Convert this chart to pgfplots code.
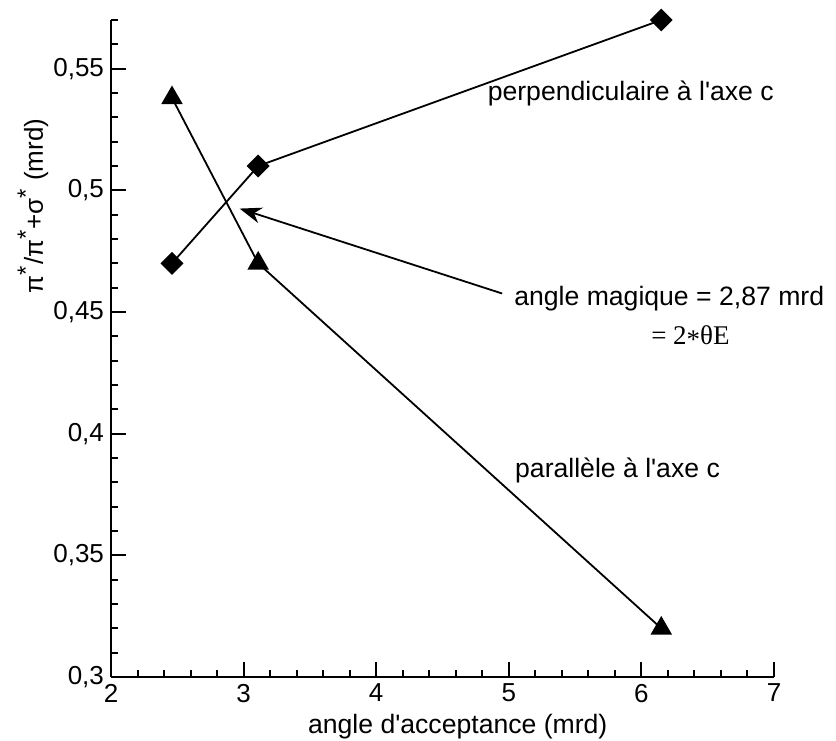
\documentclass[border=0pt]{standalone}
\usepackage{fontspec}
\setmainfont{Liberation Sans}
\newfontfamily\timesf{Liberation Serif}
\usepackage{pgfplots}
\pgfplotsset{compat=1.18}
\usetikzlibrary{arrows.meta}
\begin{document}
\begin{tikzpicture}
\begin{axis}[
  scale only axis,
  width=331.5pt, height=328.5pt,
  xmin=2, xmax=7, ymin=0.3, ymax=0.57,
  axis lines*=left,
  axis line style={line width=1pt},
  tick style={line width=1pt, black},
  tick align=inside,
  major tick length=7.5pt,
  minor tick length=3.75pt,
  xtick={2,3,4,5,6,7},
  minor x tick num=4,
  ytick={0.3,0.35,0.4,0.45,0.5,0.55},
  minor ytick={0.31,0.32,0.33,0.34,0.36,0.37,0.38,0.39,0.41,0.42,0.43,0.44,0.46,0.47,0.48,0.49,0.51,0.52,0.53,0.54,0.56,0.57},
  /pgf/number format/assume math mode=true,
  /pgf/number format/.cd, use comma, fixed, precision=2, 1000 sep={},
  /pgfplots/.cd,
  tick label style={font=\fontsize{13}{15}\selectfont},
  clip=false,
]
\addplot[black, line width=0.9pt, mark=square*, mark size=3.6pt, mark options={rotate=45, solid, fill=black}]
  coordinates {(2.46,0.47) (3.11,0.51) (6.15,0.57)};
\addplot[black, line width=0.9pt, mark=triangle*, mark size=5.3pt, mark options={solid, fill=black}]
  coordinates {(2.46,0.538) (3.11,0.47) (6.15,0.32)};
\draw[line width=0.9pt, -{Stealth[length=11pt, width=8pt, inset=3.5pt]}] (axis cs:4.95,0.4576) -- (axis cs:2.97,0.4925);
\node[font=\fontsize{13.3}{15}\selectfont] at (axis cs:5.92,0.5397) {perpendiculaire à l\textquotesingle axe c};
\node[font=\fontsize{13.3}{15}\selectfont] at (axis cs:6.21,0.4556) {angle magique = 2,87 mrd};
\node[font=\timesf\fontsize{13.5}{15}\selectfont] at (axis cs:6.37,0.4396) {= 2\raisebox{-0.35ex}{*}θE};
\node[font=\fontsize{13.3}{15}\selectfont] at (axis cs:5.82,0.385) {parallèle à l\textquotesingle axe c};
\node[font=\fontsize{13.3}{15}\selectfont] at ([yshift=-25pt]rel axis cs:0.523,0) {angle d\textquotesingle acceptance (mrd)};
\node[font=\fontsize{13}{15}\selectfont, rotate=90] at ([xshift=-39pt]rel axis cs:0,0.717) {π\textsuperscript{\large *}/π\textsuperscript{\large *}+σ\textsuperscript{\large *} (mrd)};
\coordinate (O) at (rel axis cs:0,0);
\end{axis}
\pgfresetboundingbox
\path (O) ++(-55.5pt,-31.5pt) rectangle ++(418pt,370pt);
\end{tikzpicture}
\end{document}
